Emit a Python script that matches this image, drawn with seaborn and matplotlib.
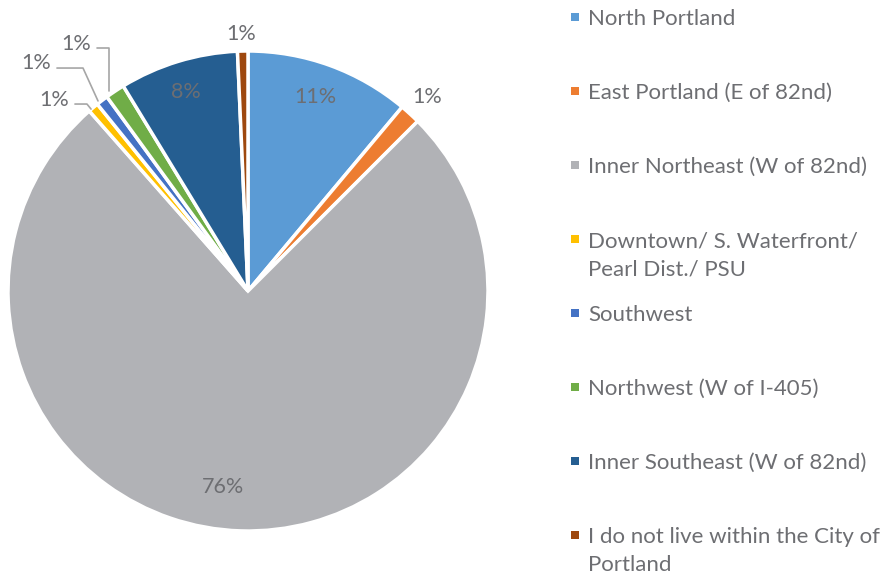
import matplotlib
matplotlib.use("Agg")
import matplotlib.pyplot as plt
from matplotlib.patches import Rectangle
import seaborn as sns

# data (percent of respondents)
areas = [
    "North Portland",
    "East Portland (E of 82nd)",
    "Inner Northeast (W of 82nd)",
    "Downtown/ S. Waterfront/\nPearl Dist./ PSU",
    "Southwest",
    "Northwest (W of I-405)",
    "Inner Southeast (W of 82nd)",
    "I do not live within the City of\nPortland",
]
shares = [11.1, 1.4, 76.0, 0.7, 0.8, 1.3, 8.0, 0.7]
pct_labels = ["11%", "1%", "76%", "1%", "1%", "1%", "8%", "1%"]
colors = ["#5B9BD5", "#ED7D31", "#B1B2B6", "#FFC000",
          "#4472C4", "#70AD47", "#255E91", "#9E480E"]

# label placement (data units, pie radius = 1)
label_pos = [(0.279, 0.81), (0.746, 0.81), (-0.104, -0.815), (-0.808, 0.795),
             (-0.883, 0.95), (-0.717, 1.03), (-0.258, 0.83), (-0.029, 1.07)]
leaders = {
    3: [(-0.654, 0.758), (-0.671, 0.779), (-0.721, 0.779)],
    4: [(-0.625, 0.792), (-0.6875, 0.929), (-0.796, 0.929)],
    5: [(-0.579, 0.833), (-0.579, 1.0125), (-0.629, 1.0125)],
}

sns.set_theme(style="white")
plt.rcParams["font.family"] = ["Lato", "DejaVu Sans"]
text_col = "#6D6E72"

W, H = 881, 578
fig = plt.figure(figsize=(W / 100, H / 100), dpi=100)
cx, cy, r = 248, 291, 240
ax = fig.add_axes([(cx - r) / W, (H - cy - r) / H, 2 * r / W, 2 * r / H])
ax.pie(shares, colors=colors, startangle=90, counterclock=False,
       wedgeprops=dict(edgecolor="white", linewidth=2.5))
ax.set_xlim(-1, 1)
ax.set_ylim(-1, 1)
ax.set_aspect("auto")
ax.axis("off")

for i, (lab, (x, y)) in enumerate(zip(pct_labels, label_pos)):
    ax.text(x, y, lab, ha="center", va="center", fontsize=15.5, color=text_col,
            clip_on=False)
for i, pts in leaders.items():
    xs, ys = zip(*pts)
    ax.plot(xs, ys, color="#A6A6A6", lw=1.2, clip_on=False)

# legend, drawn by hand to match the spread-out layout
for k, (name, c) in enumerate(zip(areas, colors)):
    y0 = 17 + 74 * k
    fig.add_artist(Rectangle((571 / W, 1 - (y0 + 4) / H), 8 / W, 8 / H,
                             transform=fig.transFigure, color=c, lw=0))
    for j, line in enumerate(name.split("\n")):
        fig.text(588 / W, 1 - (y0 + 2 + 28 * j) / H, line, ha="left",
                 va="center", fontsize=16, color=text_col)

fig.savefig("out.png", dpi=100, facecolor="white")
